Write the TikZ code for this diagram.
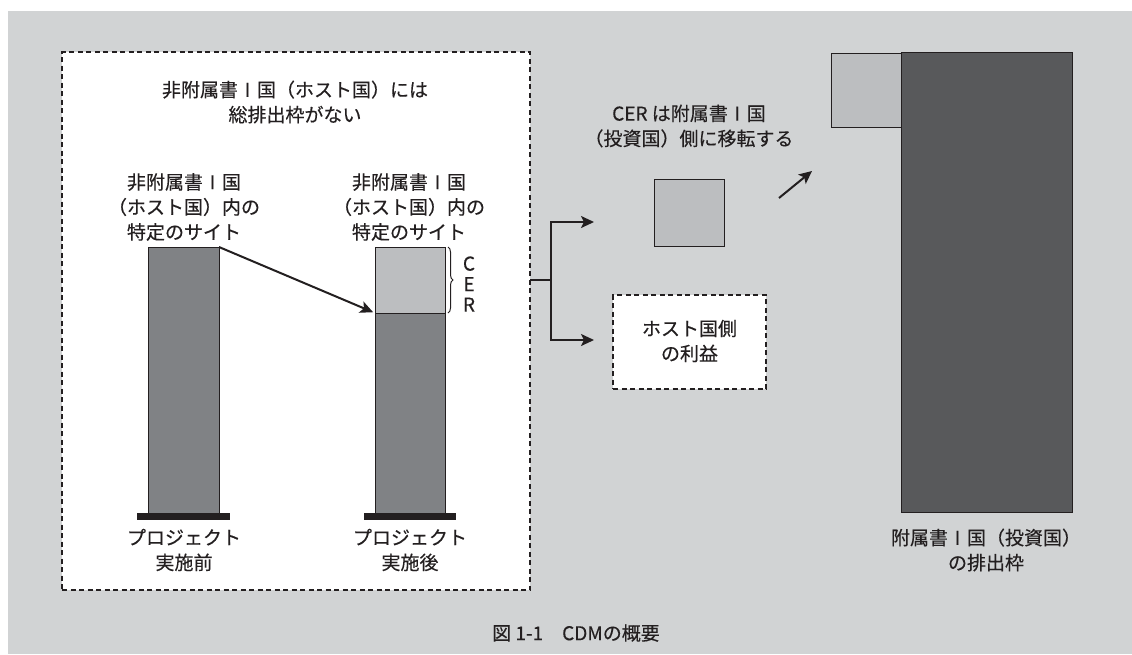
\documentclass[tikz,border=0pt]{standalone}
\usepackage{fontspec}
\setmainfont{Noto Sans CJK JP}[FakeBold=0.3]
\usetikzlibrary{arrows.meta,decorations.pathreplacing}
\definecolor{bggray}{HTML}{D1D3D4}
\definecolor{barg}{HTML}{808285}
\definecolor{lightg}{HTML}{BCBEC0}
\definecolor{darkg}{HTML}{58595B}
\definecolor{ink}{HTML}{231F20}
\tikzset{
  txt/.style={align=center, text=ink, font=\fontsize{19}{25}\selectfont, inner sep=0pt},
  rbox/.style={draw=ink, line width=1pt, inner sep=0pt, outer sep=0pt, anchor=north west},
  basebar/.style={fill=ink, draw=none, inner sep=0pt, outer sep=0pt, anchor=north west},
  dbox/.style={draw=ink, line width=2pt, dash pattern=on 5pt off 3.5pt, inner sep=0pt, outer sep=0pt},
  arr/.style={draw=ink, line width=2pt, -{Stealth[length=13pt,width=12pt,inset=3pt]}},
  conn/.style={draw=ink, line width=2pt},
}
\begin{document}
\begin{tikzpicture}[x=1pt,y=-1pt]
\useasboundingbox (0,0) rectangle (1132,654);
\fill[white] (0,0) rectangle (1132,654);
\fill[bggray] (8,11) rectangle (1132,654);

% outer dashed box
\node[dbox, fill=white, minimum width=468pt, minimum height=538pt] (outer) at (296,321) {};
\node[txt] (title) at (295,102) {非附属書Ⅰ国（ホスト国）には\\総排出枠がない};

% site labels
\node[txt] (lab1) at (184,207) {非附属書Ⅰ国\\（ホスト国）内の\\特定のサイト};
\node[txt] (lab2) at (409,207) {非附属書Ⅰ国\\（ホスト国）内の\\特定のサイト};

% bars
\node[rbox, fill=barg, minimum width=71pt, minimum height=266pt] (b1) at (148,247) {};
\node[rbox, fill=barg, minimum width=70pt, minimum height=200pt] (b2) at (375,313) {};
\node[rbox, fill=lightg, minimum width=70pt, minimum height=66pt] (cer) at (375,247) {};
\node[basebar, minimum width=93pt, minimum height=7pt] (base1) at (137,513) {};
\node[basebar, minimum width=92pt, minimum height=7pt] (base2) at (364,513) {};

% brace and CER
\draw[ink, line width=1pt, decorate, decoration={brace, amplitude=5pt}] (cer.north east) ++(3,0) -- ++(0,66);
\node[txt, font=\fontsize{19}{20.5}\selectfont] (cerlab) at (469,284) {C\\E\\R};

% arrow between bars
\draw[arr, shorten >=2pt] (b1.north east) -- (cer.south west);

% bottom labels
\node[txt] (p1) at (184,550) {プロジェクト\\実施前};
\node[txt] (p2) at (410,550) {プロジェクト\\実施後};

% branching connector
\coordinate (j) at (551,280);
\coordinate (t1) at (594,222);
\coordinate (t2) at (594,340);
\draw[conn] (outer.east |- j) -- (j);
\draw[arr] (j) |- (t1);
\draw[arr] (j) |- (t2);

% CER transfer
\node[txt] (certxt) at (689,126) {CER は附属書Ⅰ国\\（投資国）側に移転する};
\node[rbox, fill=lightg, minimum width=70pt, minimum height=67pt] (cersq) at (654,179) {};
\node[dbox, fill=white, minimum width=153pt, minimum height=94pt] (host) at (689.5,342) {};
\node[txt] (hosttxt) at (689.5,341) {ホスト国側\\の利益};

\coordinate (d1) at (779,198);
\coordinate (d2) at (812,171);
\draw[arr] (d1) -- (d2);

% Annex I cap
\node[rbox, fill=darkg, minimum width=171pt, minimum height=460pt] (cap) at (901,52) {};
\node[rbox, fill=lightg, minimum width=70pt, minimum height=74pt] (capcer) at (831,53) {};
\node[txt] (captxt) at (986,550) {附属書Ⅰ国（投資国）\\の排出枠};

% caption
\node[txt] (caption) at (576,633) {図 1-1　CDMの概要};
\end{tikzpicture}
\end{document}
